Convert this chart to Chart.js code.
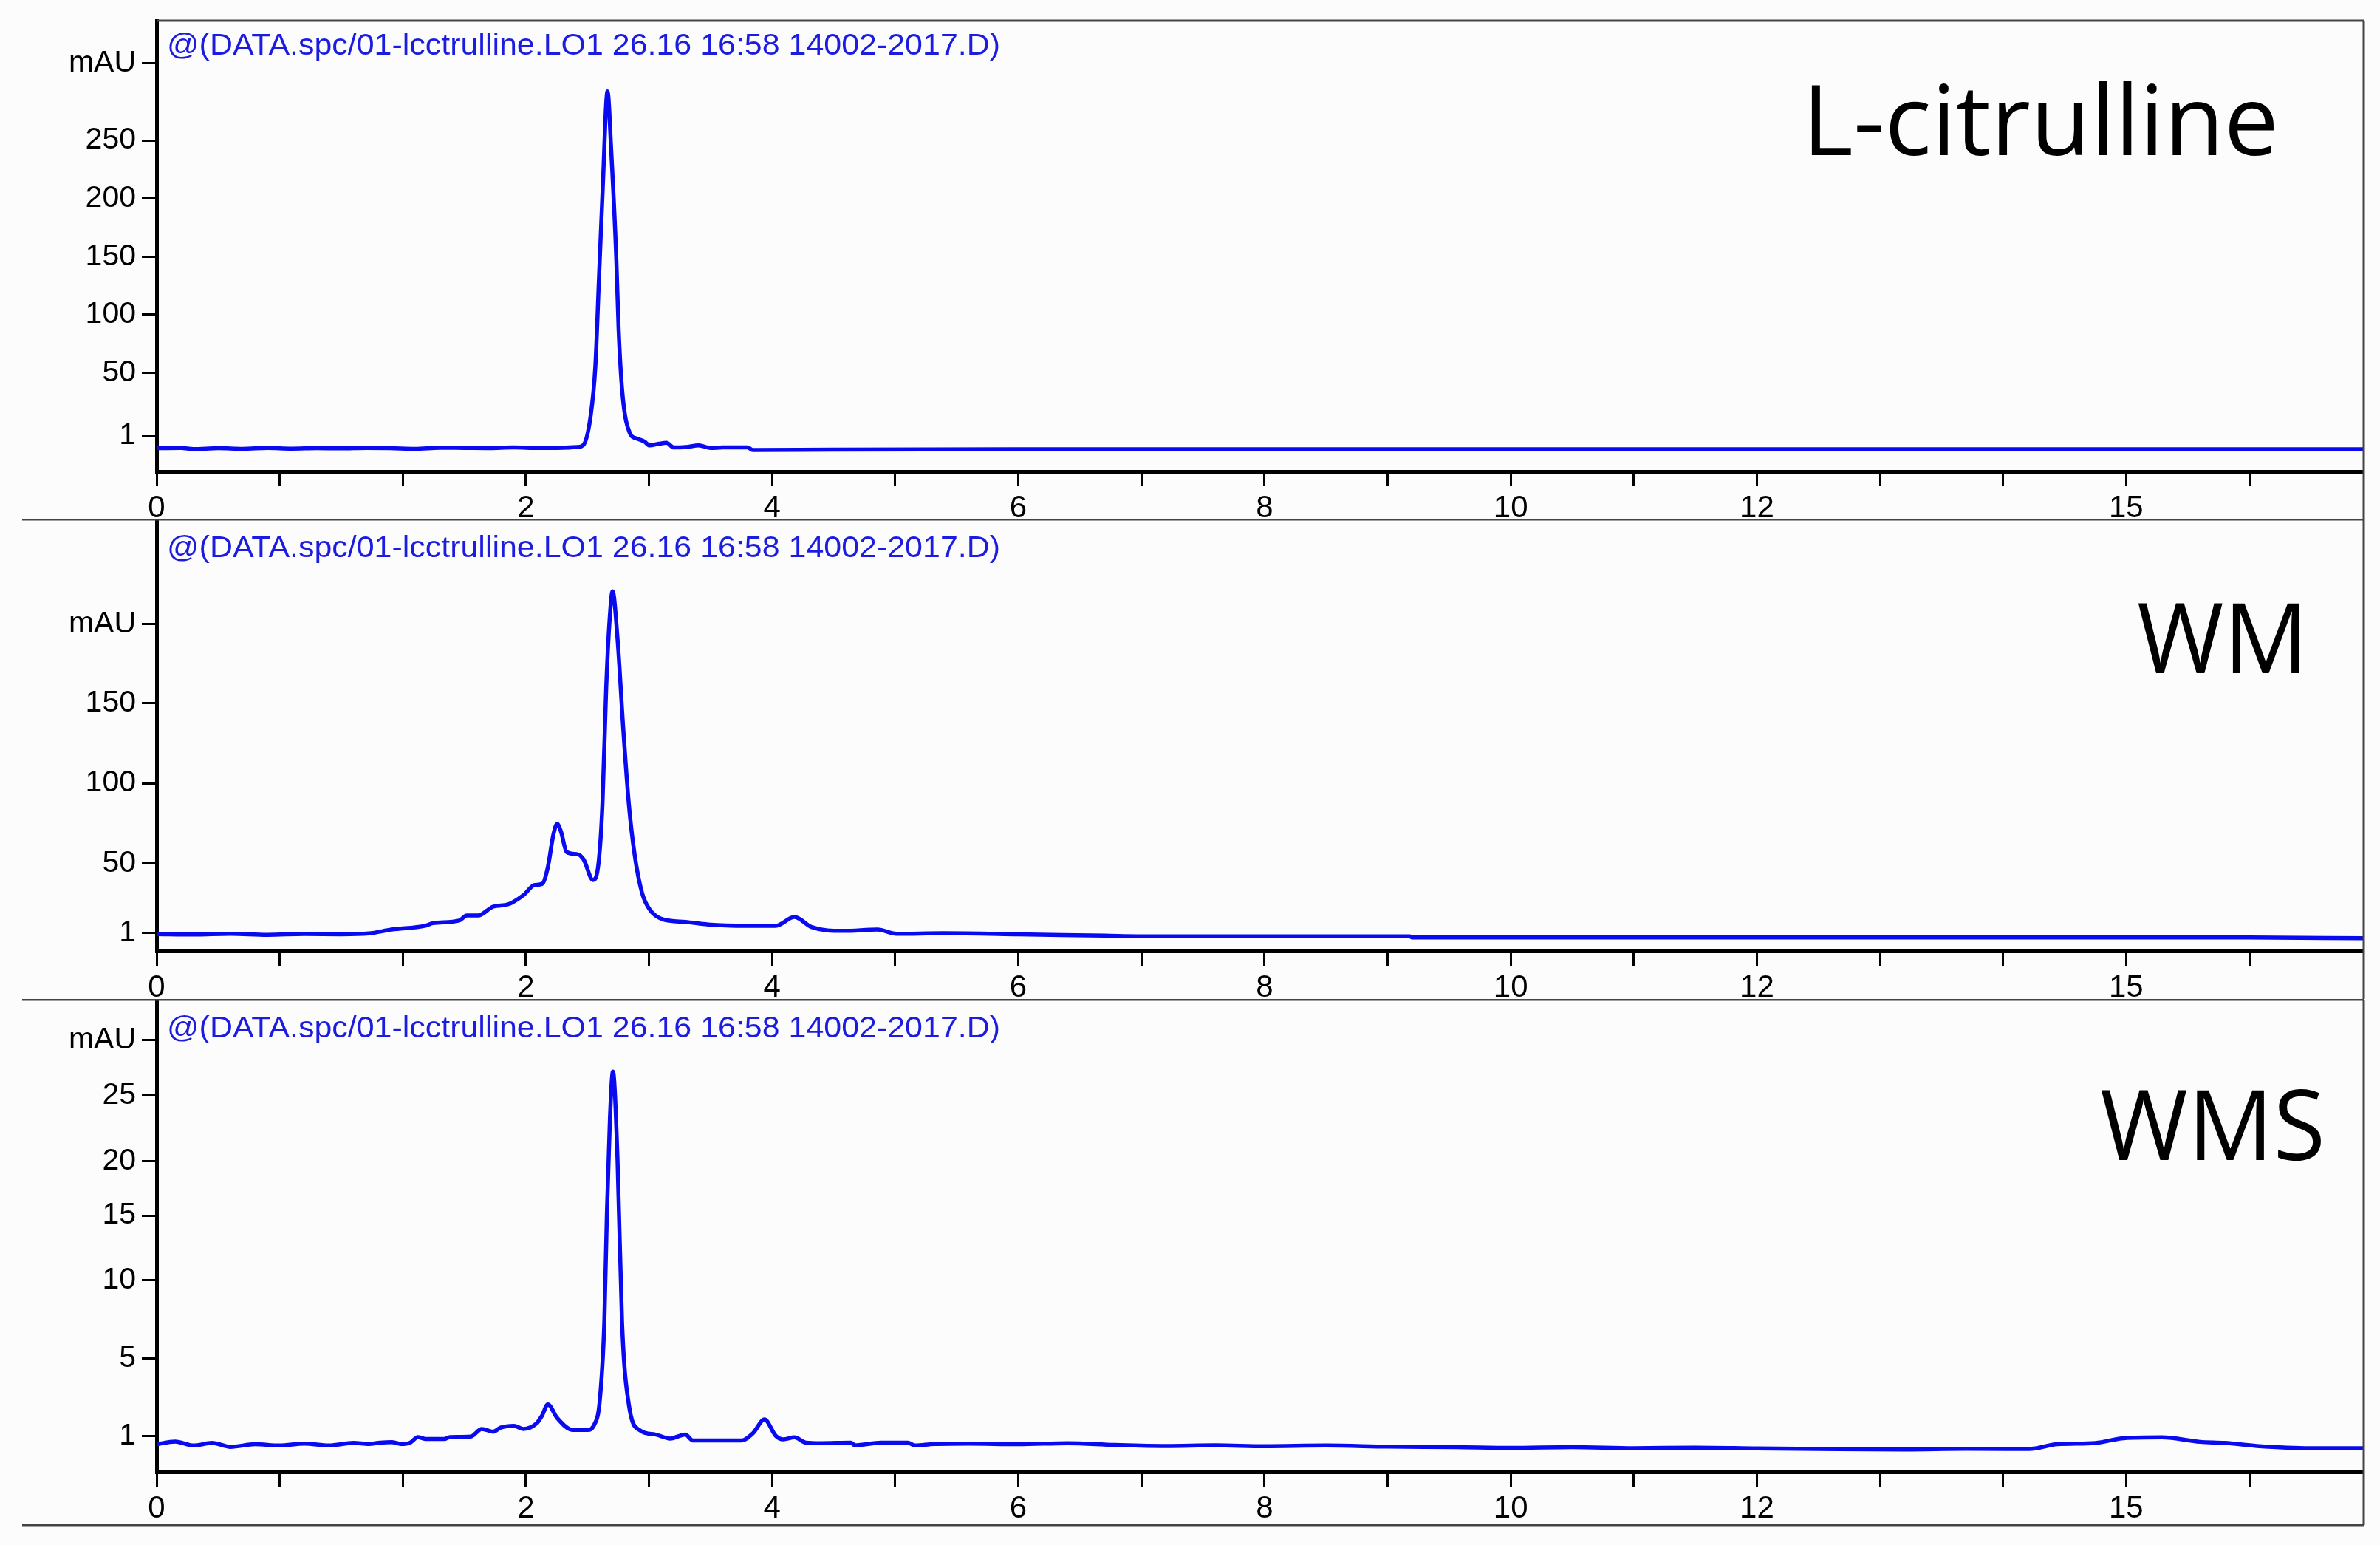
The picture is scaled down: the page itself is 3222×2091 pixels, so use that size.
<!DOCTYPE html>
<html>
<head>
<meta charset="utf-8">
<script src="https://cdn.jsdelivr.net/npm/chart.js@4.4.1/dist/chart.umd.min.js"></script>
<style>
  html, body { margin: 0; padding: 0; background: #fcfcfc; }
  .panel { position: absolute; left: 0; width: 3222px; }
</style>
</head>
<body>
<div class="panel" style="top:0;height:702px"><canvas id="chartCit"></canvas></div>
<div class="panel" style="top:702px;height:650px"><canvas id="chartWM"></canvas></div>
<div class="panel" style="top:1352px;height:739px"><canvas id="chartWMS"></canvas></div>
<script>
// x axis is in tick units (one tick per step); the labels are as printed on the original
const xTickPos = [0, 1, 2, 3, 4, 5, 6, 7, 8, 9, 10, 11, 12, 13, 14, 15, 16, 17];
const xTickText = ['0', '', '', '2', '', '4', '', '6', '', '8', '', '10', '', '12', '', '', '15', ''];

const headerText = '@(DATA.spc/01-lcctrulline.LO1 26.16 16:58 14002-2017.D)';
const sampleNames = ['L-citrulline', 'WM', 'WMS'];

// L-citrulline trace
const citX = [0, 0.2, 0.3, 0.5, 0.7, 0.9, 1.1, 1.3, 1.5, 1.7, 1.9, 2.1, 2.3, 2.5, 2.7, 2.9, 3.1, 3.3, 3.42,
  3.464, 3.524, 3.564, 3.594, 3.624, 3.663, 3.693, 3.734, 3.753, 3.783, 3.843, 3.9, 3.963, 4.004, 4.08,
  4.142, 4.202, 4.3, 4.404, 4.501, 4.6, 4.801, 4.843, 5.5, 7, 9, 11, 13, 15, 17.93];
const citY = [-14.8, -14.6, -15.6, -14.8, -15.4, -14.6, -15.2, -14.8, -15.0, -14.6, -14.8, -15.4, -14.4, -14.6,
  -14.8, -14.2, -14.6, -14.4, -13.8,
  -12.4, 11.6, 55.4, 132, 208.5, 292.1, 241.4, 149.4, 88.2, 33.5, -1.5, -6.5, -9.1, -12.4, -11.0,
  -10.2, -14.2, -13.8, -12.4, -14.6, -14.2, -14.2, -16.4, -16, -15.8, -15.8, -15.8, -15.8, -15.8, -15.8];
const citYTickPos = [-4.3, 50, 100, 150, 200, 250, 316.6];
const citYTickText = ['1', '50', '100', '150', '200', '250', 'mAU'];

// WM trace
const wmX = [0, 0.3, 0.6, 0.9, 1.2, 1.5, 1.724, 1.908, 2.183, 2.244, 2.458, 2.52, 2.612, 2.734, 2.857, 2.979,
  3.071, 3.132, 3.178, 3.224, 3.254, 3.285, 3.331, 3.423, 3.469, 3.545, 3.591, 3.622, 3.652, 3.677, 3.704,
  3.744, 3.79, 3.836, 3.883, 3.943, 4.004, 4.111, 4.295, 4.479, 4.785, 5.03, 5.182, 5.32, 5.581, 5.856,
  6.01, 6.39, 7.0, 7.7, 8.09, 10.18, 10.2, 17.0, 17.93];
const wmY = [6.1, 5.8, 6.3, 5.6, 6.2, 6.0, 6.5, 8.9, 11.3, 12.9, 14.5, 17.7, 17.7, 23.2, 24.7, 30.3,
  36.7, 37.4, 47.7, 68.3, 74.7, 69.9, 57.2, 55.7, 52.5, 39.8, 50.9, 87.3, 158.6, 198.2, 219.6,
  190.3, 134.9, 87.3, 55.7, 31.9, 21.6, 15.3, 13.7, 12.1, 11.3, 11.3, 16.8, 10.5, 8.1, 8.9,
  6.3, 6.6, 6.0, 5.1, 4.7, 4.7, 4.0, 4.0, 3.5];
const wmYTickPos = [6.8, 50, 100, 150, 199.3];
const wmYTickText = ['1', '50', '100', '150', 'mAU'];

// WMS trace
const wmsX = [0, 0.15, 0.3, 0.45, 0.6, 0.8, 1.0, 1.2, 1.4, 1.6, 1.724, 1.816, 1.908, 1.985, 2.06, 2.122,
  2.183, 2.336, 2.382, 2.551, 2.642, 2.734, 2.795, 2.902, 2.979, 3.086, 3.132, 3.178, 3.254, 3.377, 3.499,
  3.56, 3.597, 3.637, 3.658, 3.683, 3.707, 3.744, 3.781, 3.836, 3.927, 4.05, 4.173, 4.295, 4.356, 4.754,
  4.846, 4.938, 5.03, 5.09, 5.182, 5.274, 5.397, 5.641, 5.672, 5.887, 6.101, 6.162, 6.315, 6.6, 7.0, 7.4,
  7.78, 8.2, 8.6, 9.0, 9.5, 10.0, 10.56, 11.0, 11.5, 12.0, 12.5, 13.0, 13.66, 14.2, 14.7, 15.21, 15.44,
  15.75, 15.98, 16.29, 16.6, 16.8, 17.06, 17.5, 17.93];
const wmsY = [-1.5, -1.3, -1.6, -1.4, -1.7, -1.5, -1.6, -1.45, -1.6, -1.4, -1.48, -1.38, -1.34, -1.48, -1.38, -0.96,
  -1.1, -1.1, -0.96, -0.92, -0.34, -0.55, -0.24, -0.1, -0.34, 0.07, 0.69, 1.52, 0.49, -0.41, -0.41,
  0.07, 1.52, 7.73, 16.0, 23.3, 26.8, 20.2, 7.73, 1.52, -0.45, -0.76, -1.07, -0.76, -1.21, -1.21,
  -0.65, 0.38, -0.86, -1.13, -0.98, -1.38, -1.42, -1.38, -1.58, -1.38, -1.38, -1.6, -1.48, -1.45, -1.5, -1.42,
  -1.55, -1.63, -1.58, -1.65, -1.6, -1.68, -1.72, -1.78, -1.72, -1.8, -1.76, -1.82, -1.88, -1.9, -1.85, -1.86, -1.5,
  -1.41, -1.04, -0.98, -1.32, -1.4, -1.63, -1.8, -1.8];
const wmsYTickPos = [-0.9, 5, 10.96, 15.87, 20, 25, 29.2];
const wmsYTickText = ['1', '5', '10', '15', '20', '25', 'mAU'];

const LINE_BLUE = 'rgb(10,10,240)';
const HEADER_BLUE = 'rgb(28,28,225)';
const INK = '#000';
const FRAME = '#444';
const TICK_FONT = '"Liberation Sans", Arial, sans-serif';

// frame lines, header line and sample name
const decor = {
  id: 'decor',
  afterDraw(chart, args, o) {
    const ctx = chart.ctx;
    const a = chart.chartArea;
    ctx.save();
    ctx.strokeStyle = FRAME;
    ctx.lineWidth = 3;
    ctx.beginPath();
    ctx.moveTo(o.frameLeft, a.top);
    ctx.lineTo(a.right, a.top);
    ctx.moveTo(a.right, a.top);
    ctx.lineTo(a.right, o.frameBottom);
    if (o.closeBottom) {
      ctx.moveTo(30, o.frameBottom);
      ctx.lineTo(a.right, o.frameBottom);
    }
    ctx.stroke();

    ctx.fillStyle = HEADER_BLUE;
    ctx.font = '40px ' + TICK_FONT;
    ctx.textBaseline = 'alphabetic';
    let w = ctx.measureText(headerText).width;
    ctx.save();
    ctx.translate(226, a.top + o.headerBase);
    ctx.scale(1128 / w, 1);
    ctx.fillText(headerText, 0, 0);
    ctx.restore();

    ctx.fillStyle = '#000';
    ctx.font = '132px "Open Sans", "Noto Sans", sans-serif';
    w = ctx.measureText(o.name).width;
    ctx.save();
    ctx.translate(o.nameX, a.top + o.nameBase);
    ctx.scale(o.nameW / w, 1);
    ctx.fillText(o.name, 0, 0);
    ctx.restore();
    ctx.restore();
  }
};

// keep the plot box where the original has it: no extra room for edge labels
function noEdgePadding(axis) {
  axis.paddingTop = 0;
  axis.paddingBottom = 0;
  axis.paddingLeft = 0;
  axis.paddingRight = 0;
}

function makeChart(id, xs, ys, yMin, yMax, yTickPos, yTickText, lay) {
  const points = xs.map((x, i) => ({ x: x, y: ys[i] }));
  return new Chart(document.getElementById(id), {
    type: 'line',
    data: {
      datasets: [{
        data: points,
        borderColor: LINE_BLUE,
        borderWidth: 5.5,
        pointRadius: 0,
        cubicInterpolationMode: 'monotone',
        fill: false
      }]
    },
    options: {
      animation: false,
      responsive: true,
      maintainAspectRatio: false,
      layout: { padding: { top: lay.padTop, right: 22, bottom: lay.padBottom, left: 0 } },
      plugins: {
        legend: { display: false },
        tooltip: { enabled: false },
        decor: lay.decor
      },
      scales: {
        x: {
          type: 'linear',
          min: 0,
          max: 17.93,
          afterBuildTicks: axis => { axis.ticks = xTickPos.map(v => ({ value: v })); },
          afterFit: axis => { axis.height = lay.xHeight; noEdgePadding(axis); },
          ticks: {
            autoSkip: false,
            maxRotation: 0,
            padding: 5,
            color: INK,
            font: { family: TICK_FONT, size: 42 },
            callback: (v, i) => xTickText[i]
          },
          grid: { drawOnChartArea: false, tickLength: 20, tickWidth: 3, tickColor: INK },
          border: { display: true, color: INK, width: 5 }
        },
        y: {
          type: 'linear',
          min: yMin,
          max: yMax,
          afterBuildTicks: axis => { axis.ticks = yTickPos.map(v => ({ value: v })); },
          afterFit: axis => { axis.width = 212; noEdgePadding(axis); },
          ticks: {
            autoSkip: false,
            padding: 8,
            color: INK,
            font: { family: TICK_FONT, size: 41 },
            callback: (v, i) => yTickText[i]
          },
          grid: { drawOnChartArea: false, tickLength: 20, tickWidth: 3, tickColor: INK },
          border: { display: true, color: INK, width: 5 }
        }
      }
    },
    plugins: [decor]
  });
}

makeChart('chartCit', citX, citY, -34.8, 353, citYTickPos, citYTickText, {
  padTop: 28, padBottom: 0, xHeight: 64,
  decor: { frameLeft: 212, frameBottom: 702, closeBottom: false, headerBase: 46,
    name: sampleNames[0], nameX: 2440, nameBase: 182, nameW: 645 }
});
makeChart('chartWM', wmX, wmY, -4.4, 264.3, wmYTickPos, wmYTickText, {
  padTop: 1, padBottom: 0, xHeight: 65,
  decor: { frameLeft: 30, frameBottom: 650, closeBottom: false, headerBase: 51,
    name: sampleNames[1], nameX: 2893, nameBase: 208, nameW: 232 }
});
makeChart('chartWMS', wmsX, wmsY, -3.6, 32.26, wmsYTickPos, wmsYTickText, {
  padTop: 1, padBottom: 27, xHeight: 72,
  decor: { frameLeft: 30, frameBottom: 712, closeBottom: true, headerBase: 51,
    name: sampleNames[2], nameX: 2843, nameBase: 217, nameW: 305 }
});
</script>
</body>
</html>
